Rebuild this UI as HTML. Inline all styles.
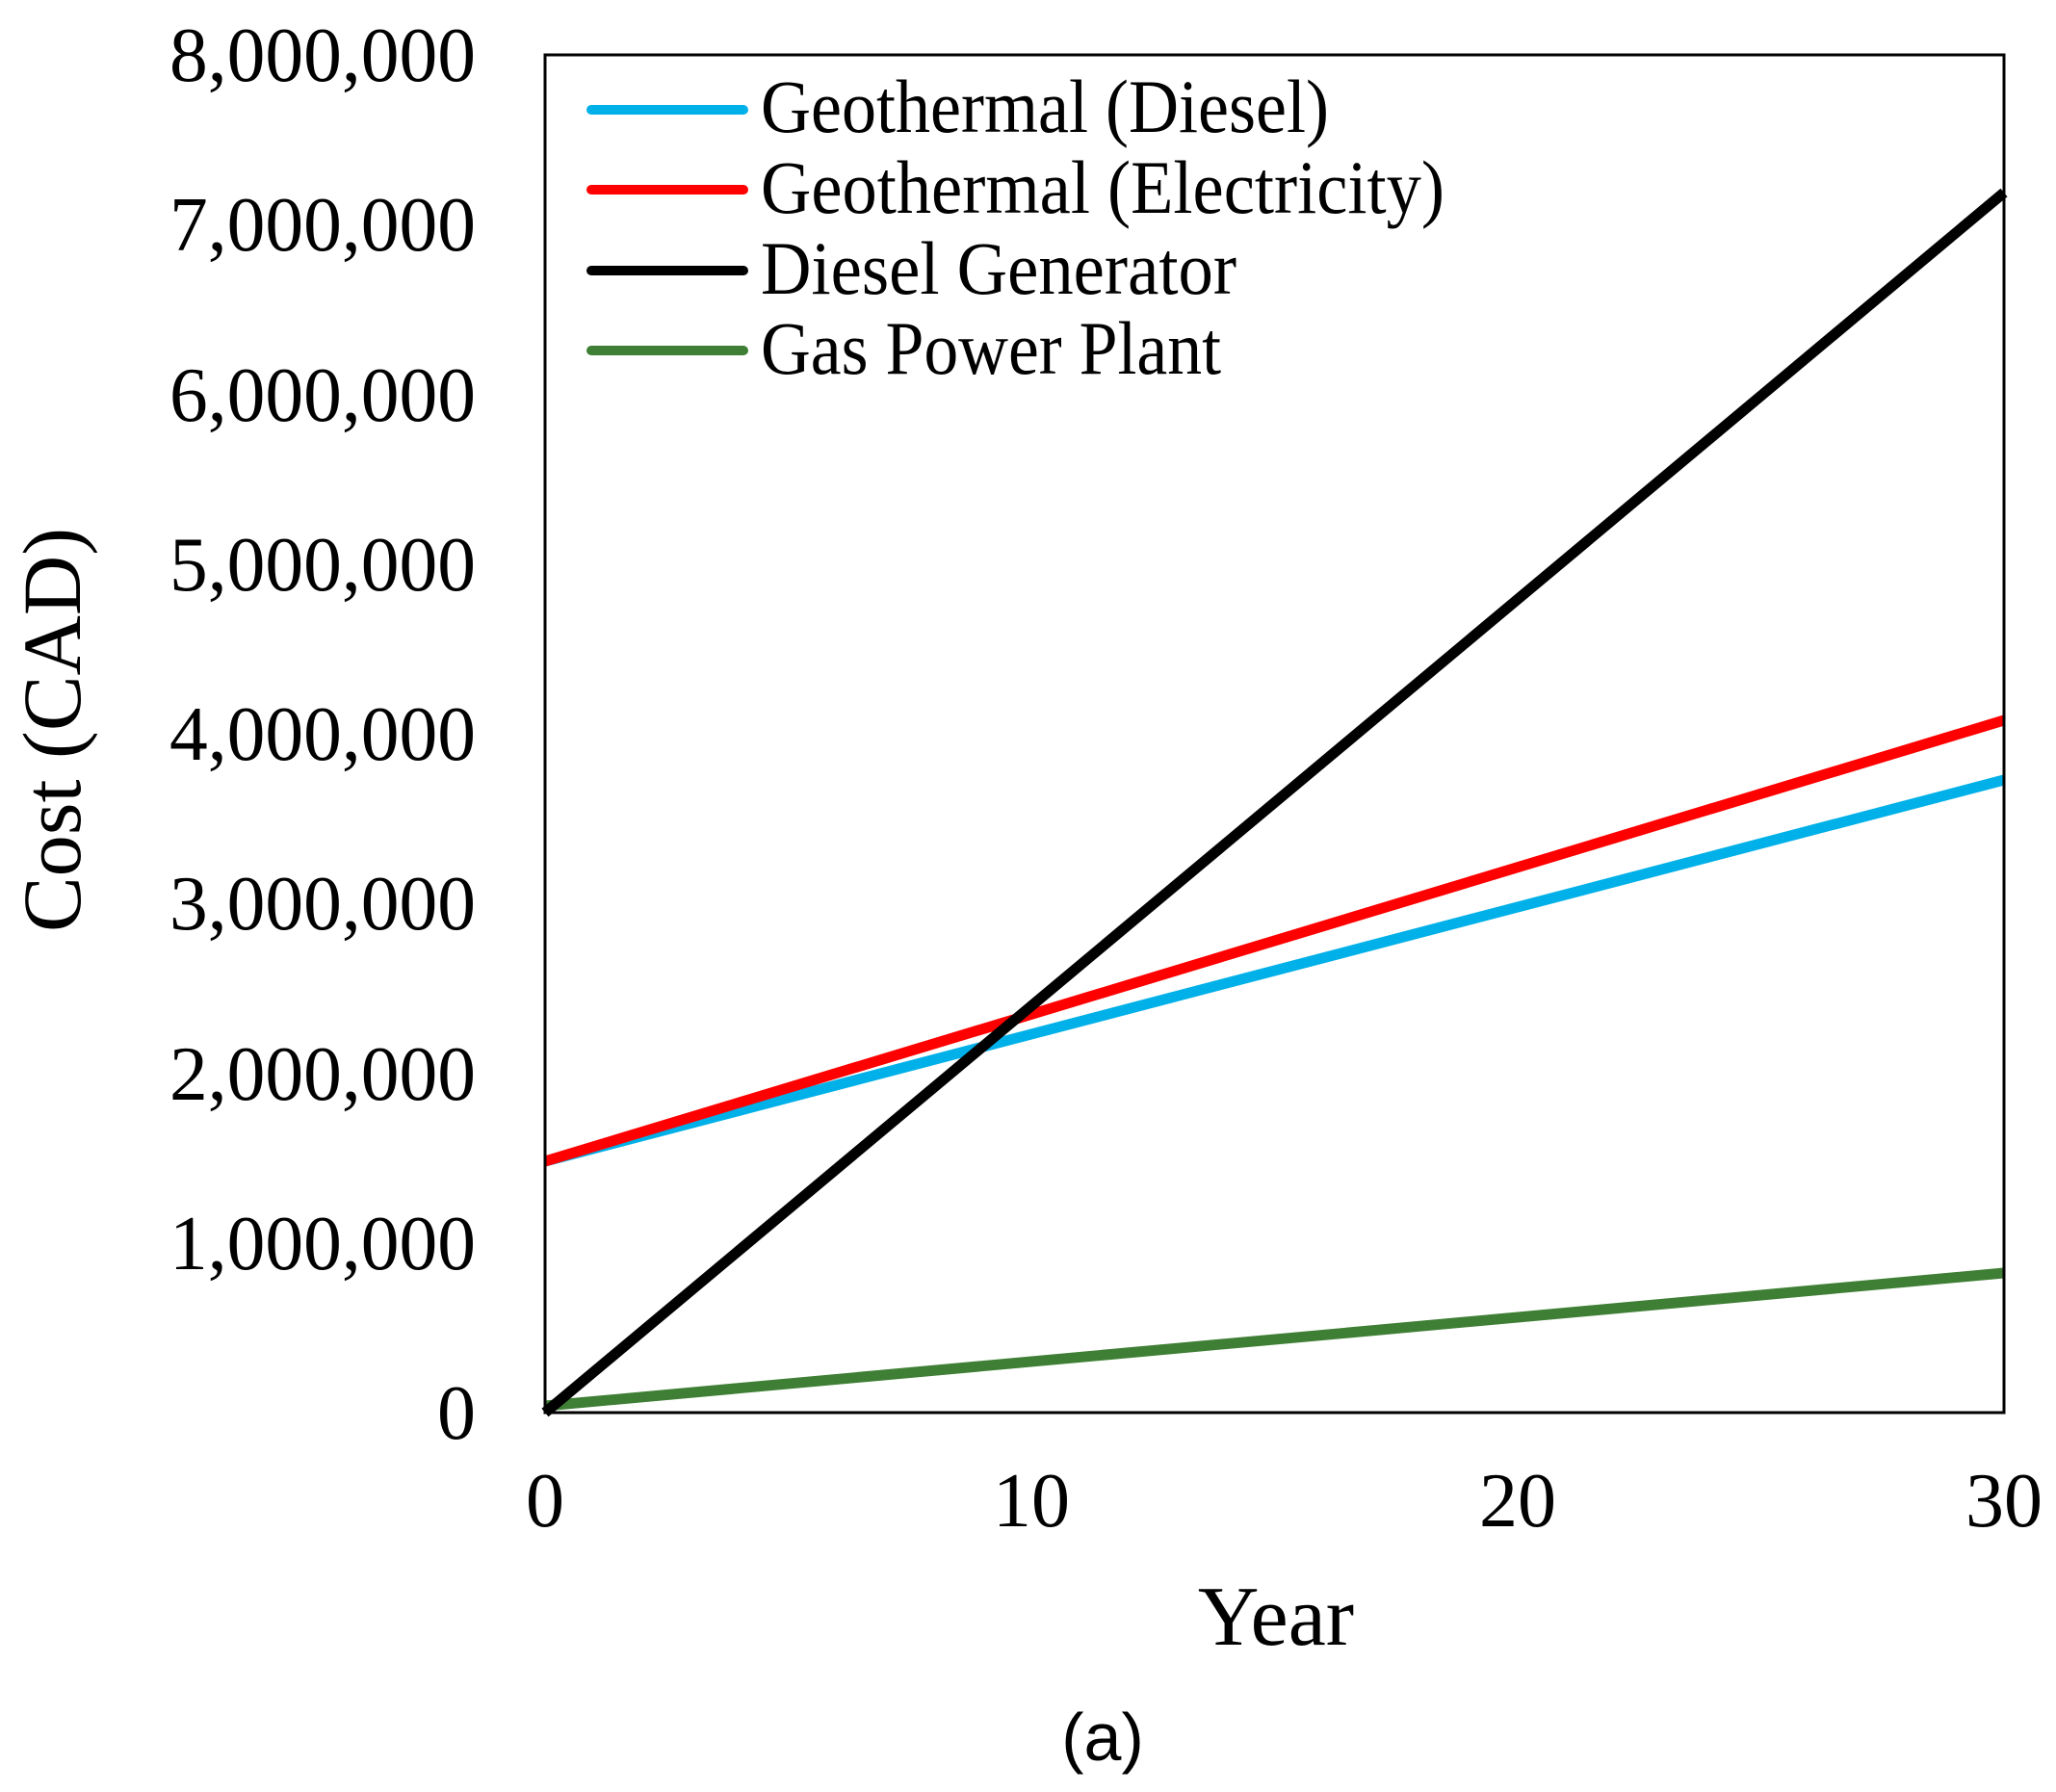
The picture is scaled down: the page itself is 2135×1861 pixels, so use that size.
<!DOCTYPE html>
<html><head><meta charset="utf-8"><style>html,body{margin:0;padding:0;background:#fff}</style></head>
<body>
<svg width="2135" height="1856" viewBox="0 0 2135 1856" xmlns="http://www.w3.org/2000/svg" font-family="'Liberation Serif', serif">
<rect width="2135" height="1856" fill="#fff"/>
<g stroke-width="11" fill="none" stroke-linecap="butt">
<line x1="566" y1="1460" x2="2081" y2="1322" stroke="#3f7f35"/>
<line x1="566" y1="1206" x2="2081" y2="810" stroke="#00b0e8"/>
<line x1="566" y1="1206" x2="2081" y2="748" stroke="#ff0000"/>
<line x1="566" y1="1467" x2="2081" y2="200" stroke="#000"/>
</g>
<rect x="566" y="57" width="1515" height="1410" fill="none" stroke="#000" stroke-width="3"/>
<g font-size="80" text-anchor="end" fill="#000">
<text x="494" y="84" textLength="318" lengthAdjust="spacingAndGlyphs">8,000,000</text>
<text x="494" y="260" textLength="318" lengthAdjust="spacingAndGlyphs">7,000,000</text>
<text x="494" y="437" textLength="318" lengthAdjust="spacingAndGlyphs">6,000,000</text>
<text x="494" y="613" textLength="318" lengthAdjust="spacingAndGlyphs">5,000,000</text>
<text x="494" y="789" textLength="318" lengthAdjust="spacingAndGlyphs">4,000,000</text>
<text x="494" y="965" textLength="318" lengthAdjust="spacingAndGlyphs">3,000,000</text>
<text x="494" y="1142" textLength="318" lengthAdjust="spacingAndGlyphs">2,000,000</text>
<text x="494" y="1318" textLength="318" lengthAdjust="spacingAndGlyphs">1,000,000</text>
<text x="494" y="1494">0</text>
</g>
<g font-size="80" text-anchor="middle" fill="#000">
<text x="566" y="1585">0</text>
<text x="1071" y="1585">10</text>
<text x="1576" y="1585">20</text>
<text x="2081" y="1585">30</text>
</g>
<text x="1325" y="1708" font-size="88" text-anchor="middle">Year</text>
<text transform="translate(83,758) rotate(-90)" font-size="86" text-anchor="middle" textLength="420" lengthAdjust="spacingAndGlyphs">Cost (CAD)</text>
<text x="1145" y="1828" font-size="70" text-anchor="middle" font-family="'Liberation Sans', sans-serif">(a)</text>
<g stroke-width="10" stroke-linecap="round">
<line x1="614" y1="114" x2="772" y2="114" stroke="#00b0e8"/>
<line x1="614" y1="197" x2="772" y2="197" stroke="#ff0000"/>
<line x1="614" y1="281" x2="772" y2="281" stroke="#000"/>
<line x1="614" y1="364" x2="772" y2="364" stroke="#3f7f35"/>
</g>
<g font-size="78" fill="#000">
<text x="790" y="137" textLength="590" lengthAdjust="spacingAndGlyphs">Geothermal (Diesel)</text>
<text x="790" y="221" textLength="710" lengthAdjust="spacingAndGlyphs">Geothermal (Electricity)</text>
<text x="790" y="305" textLength="494" lengthAdjust="spacingAndGlyphs">Diesel Generator</text>
<text x="790" y="388" textLength="478" lengthAdjust="spacingAndGlyphs">Gas Power Plant</text>
</g>
</svg>
</body></html>
